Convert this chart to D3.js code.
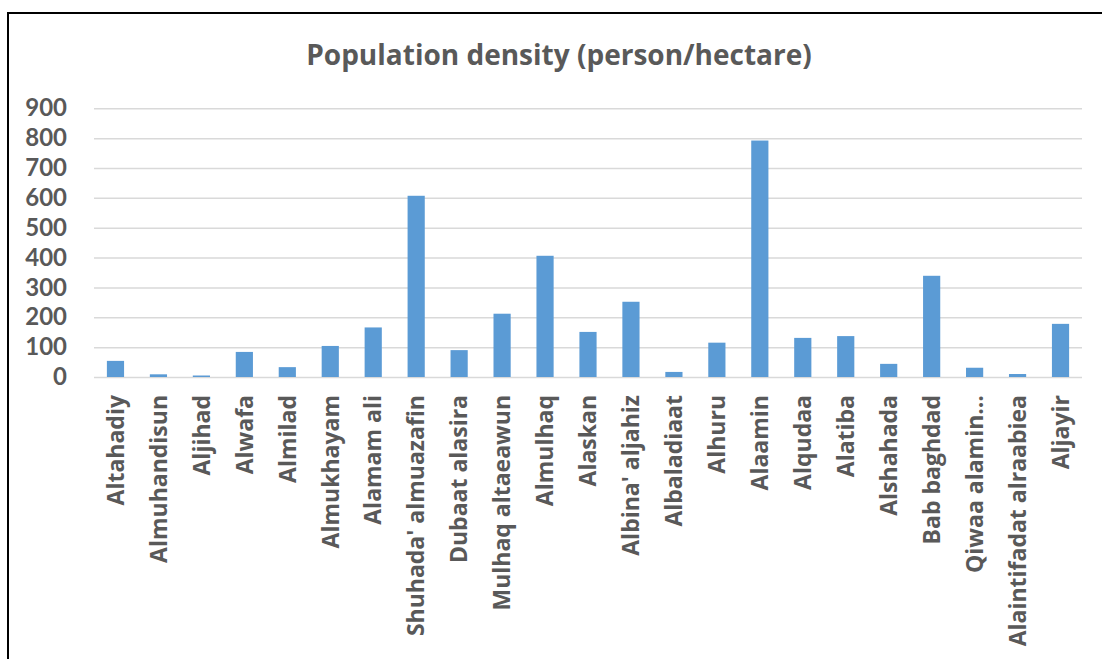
<!DOCTYPE html>
<html>
<head>
<meta charset="utf-8">
<script src="https://cdn.jsdelivr.net/npm/d3@7"></script>
<style>
  html, body { margin: 0; padding: 0; background: #fff; }
  svg { display: block; }
  text { font-family: "Open Sans", "Noto Sans", sans-serif; font-weight: bold; fill: #595959; }
</style>
</head>
<body>
<script>
// Neighbourhoods and their population density (person/hectare)
const neighbourhoods = [
  "Altahadiy", "Almuhandisun", "Aljihad", "Alwafa", "Almilad", "Almukhayam",
  "Alamam ali", "Shuhada' almuazafin", "Dubaat alasira", "Mulhaq altaeawun",
  "Almulhaq", "Alaskan", "Albina' aljahiz", "Albaladiaat", "Alhuru", "Alaamin",
  "Alqudaa", "Alatiba", "Alshahada", "Bab baghdad", "Qiwaa alamin…",
  "Alaintifadat alraabiea", "Aljayir"
];
const density = [
  54, 9, 5, 84, 33, 104, 166, 607, 90, 212, 406, 151, 252, 17, 115, 792,
  131, 137, 44, 339, 31, 10, 178
];
const yTicks = [0, 100, 200, 300, 400, 500, 600, 700, 800, 900];
const chartTitle = "Population density (person/hectare)";

const W = 1102, H = 659;
const plot = { left: 94, right: 1082, top: 108.3, bottom: 377 };

const svg = d3.select("body").append("svg")
  .attr("width", W).attr("height", H);

// outer frame
svg.append("rect")
  .attr("x", 8).attr("y", 13)
  .attr("width", 1110).attr("height", 670)
  .attr("fill", "none").attr("stroke", "#000").attr("stroke-width", 2);

const x = d3.scaleBand()
  .domain(neighbourhoods)
  .range([plot.left, plot.right])
  .paddingInner(0.6)
  .paddingOuter(0.3);

const y = d3.scaleLinear()
  .domain([0, 900])
  .range([plot.bottom, plot.top]);

// title
svg.append("text")
  .attr("x", 559)
  .attr("y", 65)
  .attr("text-anchor", "middle")
  .style("font-size", "28px")
  .text(chartTitle);

// horizontal gridlines and value labels
const yAxis = d3.axisLeft(y)
  .tickValues(yTicks)
  .tickSize(-(plot.right - plot.left))
  .tickPadding(27);

const gy = svg.append("g")
  .attr("transform", `translate(${plot.left},0)`)
  .call(yAxis);
gy.select(".domain").remove();
gy.selectAll(".tick line")
  .attr("stroke", "#D9D9D9").attr("stroke-width", 1.5);
gy.selectAll(".tick text")
  .attr("fill", "#595959")
  .style("font-size", "24px")
  .style("font-family", "Lato, 'Open Sans', sans-serif")
  .style("font-weight", "bold");

// bars
svg.append("g").selectAll("rect")
  .data(neighbourhoods)
  .join("rect")
  .attr("x", d => x(d))
  .attr("width", x.bandwidth())
  .attr("y", (d, i) => y(density[i]))
  .attr("height", (d, i) => y(0) - y(density[i]))
  .attr("fill", "#5B9BD5");

// category labels, rotated
const xAxis = d3.axisBottom(x).tickSize(0).tickPadding(0);
const gx = svg.append("g")
  .attr("transform", `translate(0,${plot.bottom})`)
  .call(xAxis);
gx.select(".domain").remove();
gx.selectAll(".tick text")
  .attr("fill", "#595959")
  .style("font-size", "23px")
  .style("font-family", "'Open Sans', sans-serif")
  .style("font-weight", "bold")
  .attr("text-anchor", "end")
  .attr("transform", "rotate(-90)")
  .attr("x", -18)
  .attr("y", 0)
  .attr("dy", "0.36em");
</script>
</body>
</html>
